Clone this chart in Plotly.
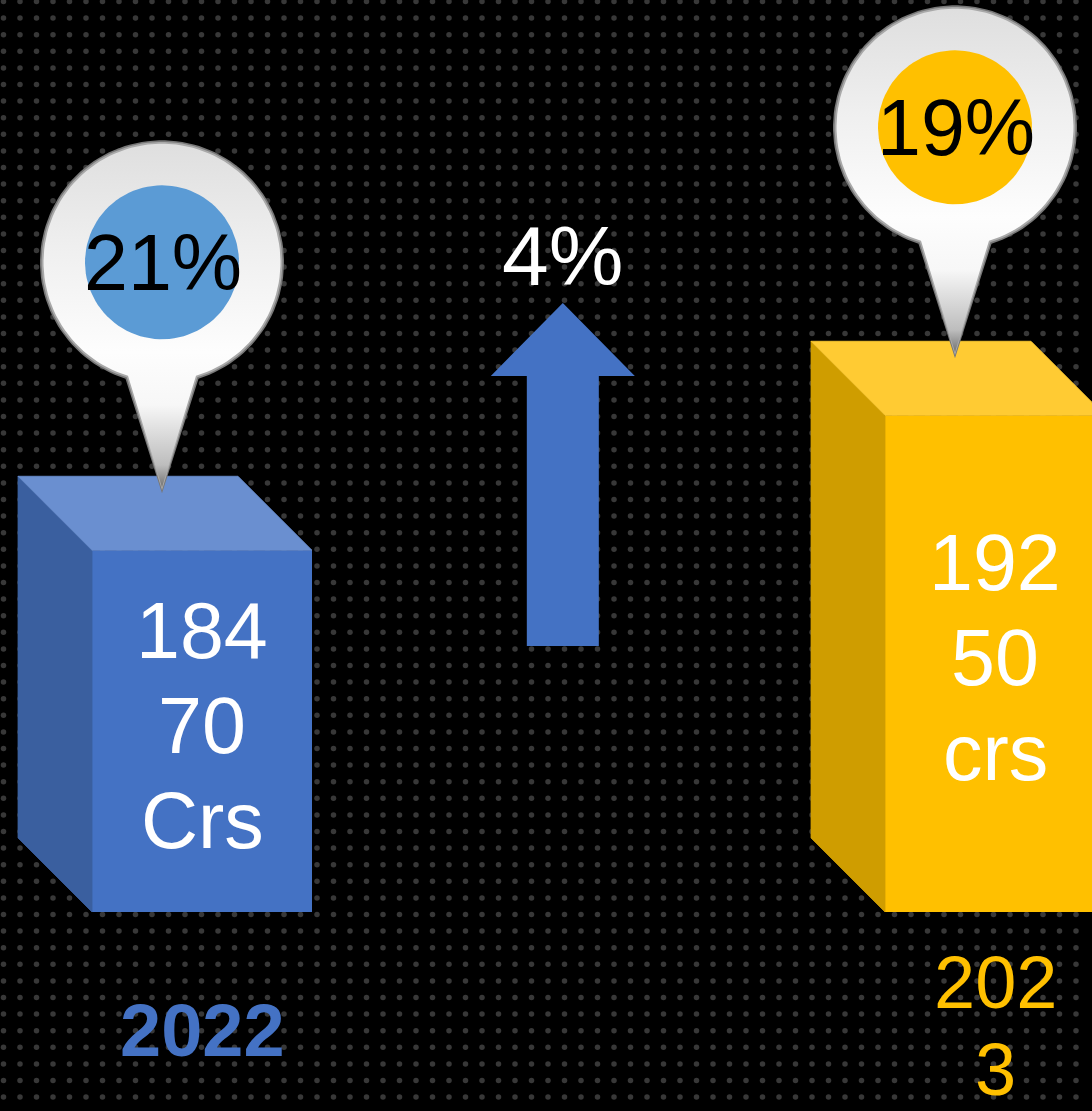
import math
import numpy as np
import plotly.graph_objects as go

# ------------------------------------------------------------------ data
years = ["2022", "2023"]
revenue_crores = [18470, 19250]
bar_labels = ["184<br>70<br>Crs", "192<br>50<br>crs"]
share_labels = ["21%", "19%"]
growth_label = "4%"

# ------------------------------------------------------------------ style
W, H = 1092, 1111
FONT = "Arial, Liberation Sans, sans-serif"
FRONT = ["#4472C4", "#FFC000"]
SIDE = ["#3A5F9F", "#CF9D00"]
TOP = ["#6A8FD0", "#FFCB33"]
BADGE = ["#5B9BD5", "#FFC000"]
YEAR_COLORS = ["#4472C4", "#FFC000"]
YEAR_BOLD = [True, False]
YEAR_WRAP = [None, 3]          # 2023 label is wrapped after 3 characters
YEAR_SHIFTS = [[-118], [-70, -157]]

# axis geometry (scale choices)
X_PX_PER_UNIT = 793.0
X0_PX = 202.0
XMIN = -X0_PX / X_PX_PER_UNIT
XMAX = XMIN + W / X_PX_PER_UNIT
FLOOR = 16380.0
FLOOR_PX = 912.0
Y_PX_PER_CR = 0.17308
YMIN = FLOOR - (H - FLOOR_PX) / Y_PX_PER_CR
YMAX = FLOOR + FLOOR_PX / Y_PX_PER_CR

BAR_W_PX = 220
DEPTH_PX = 74
PIN_TIP_DX, PIN_TIP_DY = -40, 57
PIN_C = 231
PIN_R = 122
BADGE_R = 77
TAIL_HALF = 36.5
ARROW_X = 0.455
ARROW_BASE_PX = 266


def dx(px):
    return px / X_PX_PER_UNIT


def dy(px):
    return px / Y_PX_PER_CR


fig = go.Figure()

# ---------------------------------------------------- background dot texture
gx = np.arange(3.5, W, 16.5)
gy = np.arange(1.5, H, 16.6)
GX, GY = np.meshgrid(gx, gy)
fig.add_trace(go.Scatter(
    x=XMIN + GX.ravel() / X_PX_PER_UNIT, y=GY.ravel(), mode="markers",
    marker=dict(size=5.5, color="#383838", line=dict(width=0)),
    hoverinfo="skip", xaxis="x", yaxis="y"))

idx = list(range(len(years)))
bw = dx(BAR_W_PX)

# ---------------------------------------------------- bar front faces
fig.add_trace(go.Bar(
    x=idx, y=[v - FLOOR for v in revenue_crores], base=FLOOR, width=bw,
    marker=dict(color=FRONT, line=dict(width=0)),
    hoverinfo="skip", xaxis="x", yaxis="y2"))

# ---------------------------------------------------- 3D side and top faces
for i, v in zip(idx, revenue_crores):
    xl, xr = i - bw / 2, i + bw / 2
    ddx, ddy = dx(DEPTH_PX), dy(DEPTH_PX)
    fig.add_trace(go.Scatter(
        x=[xl, xl, xl - ddx, xl - ddx, xl], y=[FLOOR, v, v + ddy, FLOOR + ddy, FLOOR],
        fill="toself", fillcolor=SIDE[i], mode="lines",
        line=dict(color=SIDE[i], width=0.8), hoverinfo="skip", xaxis="x", yaxis="y2"))
    fig.add_trace(go.Scatter(
        x=[xl, xr, xr - ddx, xl - ddx, xl], y=[v, v, v + ddy, v + ddy, v],
        fill="toself", fillcolor=TOP[i], mode="lines",
        line=dict(color=TOP[i], width=0.8), hoverinfo="skip", xaxis="x", yaxis="y2"))


# ---------------------------------------------------- pins
def pin_shape(xt, yt, R, half, tip_up):
    a0 = math.asin(half / R)
    angs = np.linspace(a0, 2 * math.pi - a0, 120)
    px = list(R * np.sin(angs)) + [0.0, R * math.sin(a0)]
    py = list(PIN_C - R * np.cos(angs)) + [tip_up, PIN_C - R * math.cos(a0)]
    return [xt + dx(p) for p in px], [yt + dy(p) for p in py]


for i, v in zip(idx, revenue_crores):
    xt = i + dx(PIN_TIP_DX)
    yt = v + dy(PIN_TIP_DY)
    for R, half, tip, col in [(PIN_R, TAIL_HALF, 0, "#777777"),
                              (PIN_R - 1.6, TAIL_HALF - 1.2, 3, "#a9a9a9")]:
        xs, ys = pin_shape(xt, yt, R, half, tip)
        fig.add_trace(go.Scatter(x=xs, y=ys, fill="toself", fillcolor=col, mode="lines",
                                 line=dict(width=0, color=col), hoverinfo="skip",
                                 xaxis="x", yaxis="y2"))
    xs, ys = pin_shape(xt, yt, PIN_R - 3.5, TAIL_HALF - 2.5, 6)
    fig.add_trace(go.Scatter(
        x=xs, y=ys, fill="toself", mode="lines", line=dict(width=0, color="#dddddd"),
        fillgradient=dict(type="vertical", start=yt, stop=yt + dy(PIN_C + PIN_R),
                          colorscale=[[0, "#5e5e5e"], [0.08, "#bdbdbd"], [0.25, "#f7f7f7"],
                                      [0.4, "#fdfdfd"], [0.7, "#efefef"], [1, "#dedede"]]),
        hoverinfo="skip", xaxis="x", yaxis="y2"))
    ang = np.linspace(0, 2 * math.pi, 100)
    fig.add_trace(go.Scatter(
        x=[xt + dx(BADGE_R * math.sin(a)) for a in ang],
        y=[yt + dy(PIN_C + BADGE_R * math.cos(a)) for a in ang],
        fill="toself", fillcolor=BADGE[i], mode="lines",
        line=dict(width=0, color=BADGE[i]), hoverinfo="skip", xaxis="x", yaxis="y2"))

# ---------------------------------------------------- growth arrow
arrow_px = [(-36, 0), (36, 0), (36, 270), (72, 270), (0, 343), (-72, 270), (-36, 270), (-36, 0)]
fig.add_trace(go.Scatter(
    x=[ARROW_X + dx(p[0]) for p in arrow_px],
    y=[FLOOR + dy(ARROW_BASE_PX + p[1]) for p in arrow_px],
    fill="toself", fillcolor="#4472C4", mode="lines", line=dict(width=0, color="#4472C4"),
    hoverinfo="skip", xaxis="x", yaxis="y2"))

# ---------------------------------------------------- annotations
ann = []
for i, v in zip(idx, revenue_crores):
    lines = bar_labels[i].split("<br>")
    mid = (v + FLOOR) / 2
    n = len(lines)
    for k, t in enumerate(lines):
        ann.append(dict(x=i, y=mid, xref="x", yref="y2", text=t, showarrow=False,
                        xanchor="center", yanchor="middle",
                        yshift=(n - 1) / 2 * 95 - k * 95 + 6,
                        font=dict(family=FONT, size=79, color="white")))
    ann.append(dict(x=i, y=v, xref="x", yref="y2", text=share_labels[i], showarrow=False,
                    xanchor="center", yanchor="middle",
                    xshift=PIN_TIP_DX + 1, yshift=PIN_TIP_DY + PIN_C,
                    font=dict(family=FONT, size=79, color="black")))
    yl = years[i]
    parts = [yl] if YEAR_WRAP[i] is None else [yl[:YEAR_WRAP[i]], yl[YEAR_WRAP[i]:]]
    for part, ys in zip(parts, YEAR_SHIFTS[i]):
        txt = "<b>" + part + "</b>" if YEAR_BOLD[i] else part
        ann.append(dict(x=i, y=FLOOR, xref="x", yref="y2", text=txt, showarrow=False,
                        xanchor="center", yanchor="middle", yshift=ys,
                        font=dict(family=FONT, size=74, color=YEAR_COLORS[i])))

ann.append(dict(x=ARROW_X, y=FLOOR + dy(ARROW_BASE_PX + 343 + 47), xref="x", yref="y2",
                text=growth_label, showarrow=False, xanchor="center", yanchor="middle",
                font=dict(family=FONT, size=84, color="white")))

fig.update_layout(
    width=W, height=H, margin=dict(l=0, r=0, t=0, b=0, pad=0),
    paper_bgcolor="black", plot_bgcolor="black", showlegend=False,
    xaxis=dict(range=[XMIN, XMAX], visible=False, fixedrange=True),
    yaxis=dict(range=[H, 0], visible=False, fixedrange=True),
    yaxis2=dict(range=[YMIN, YMAX], visible=False, overlaying="y", fixedrange=True),
    annotations=ann,
)

fig.write_html("out.html", config={"displayModeBar": False},
               post_script="document.body.style.margin='0';")
